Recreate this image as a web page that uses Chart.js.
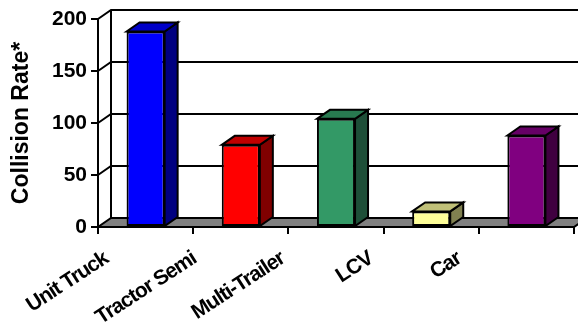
<!DOCTYPE html>
<html>
<head>
<meta charset="utf-8">
<script src="https://cdn.jsdelivr.net/npm/chart.js@4"></script>
<style>
  body { margin: 0; background: #fff; }
  canvas { display: block; }
</style>
</head>
<body>
<canvas id="rateChart" width="578" height="328"></canvas>
<script>
const categories = ['Unit Truck', 'Tractor Semi', 'Multi-Trailer', 'LCV', 'Car'];
const rates = [188, 79, 104, 15, 88];
const yTickValues = [0, 50, 100, 150, 200];

const frontColors = ['#0000FF', '#FF0000', '#339966', '#FFFF99', '#800080'];
const topColors = ['#0000C8', '#C00000', '#287A50', '#C0C078', '#660066'];
const sideColors = ['#000080', '#800000', '#1E4F38', '#808050', '#400040'];

// oblique depth of the floor, back wall and columns
const DX = 13;
const DY = -9;

Chart.defaults.font.family = "'Liberation Sans', Arial, sans-serif";
Chart.defaults.color = '#000';

const wallPlugin = {
  id: 'wall',
  beforeDatasetsDraw(chart) {
    const ctx = chart.ctx;
    const y = chart.scales.y;
    const a = chart.chartArea;
    ctx.save();
    ctx.lineWidth = 2;
    ctx.strokeStyle = '#000';
    ctx.lineJoin = 'miter';

    // floor
    ctx.beginPath();
    ctx.moveTo(a.left, a.bottom);
    ctx.lineTo(a.right, a.bottom);
    ctx.lineTo(a.right + DX, a.bottom + DY);
    ctx.lineTo(a.left + DX, a.bottom + DY);
    ctx.closePath();
    ctx.fillStyle = '#808080';
    ctx.fill();
    ctx.stroke();

    // back wall edge and gridlines
    ctx.beginPath();
    ctx.moveTo(a.left + DX, a.top + DY);
    ctx.lineTo(a.left + DX, a.bottom + DY);
    yTickValues.forEach(v => {
      if (v === 0) return;
      const py = y.getPixelForValue(v);
      ctx.moveTo(a.left, py);
      ctx.lineTo(a.left + DX, py + DY);
      ctx.lineTo(chart.width + 2, py + DY);
    });
    ctx.stroke();
    ctx.restore();
  },
  afterDatasetsDraw(chart) {
    const ctx = chart.ctx;
    const meta = chart.getDatasetMeta(0);
    ctx.save();
    ctx.lineWidth = 2;
    ctx.strokeStyle = '#000';
    ctx.lineJoin = 'miter';
    meta.data.forEach((bar, i) => {
      const p = bar.getProps(['x', 'y', 'base', 'width'], true);
      const x1 = p.x - p.width / 2;
      const x2 = p.x + p.width / 2;
      // side
      ctx.beginPath();
      ctx.moveTo(x2, p.y);
      ctx.lineTo(x2 + DX, p.y + DY);
      ctx.lineTo(x2 + DX, p.base + DY);
      ctx.lineTo(x2, p.base);
      ctx.closePath();
      ctx.fillStyle = sideColors[i];
      ctx.fill();
      ctx.stroke();
      // top
      ctx.beginPath();
      ctx.moveTo(x1, p.y);
      ctx.lineTo(x1 + DX, p.y + DY);
      ctx.lineTo(x2 + DX, p.y + DY);
      ctx.lineTo(x2, p.y);
      ctx.closePath();
      ctx.fillStyle = topColors[i];
      ctx.fill();
      ctx.stroke();
    });
    ctx.restore();
  },
  afterDraw(chart) {
    // slanted category names under the floor
    const ctx = chart.ctx;
    const x = chart.scales.x;
    ctx.save();
    ctx.font = "bold 21px 'Liberation Sans', Arial, sans-serif";
    ctx.letterSpacing = '-1px';
    ctx.fillStyle = '#000';
    ctx.textAlign = 'right';
    ctx.textBaseline = 'top';
    categories.forEach((name, i) => {
      const px = x.getPixelForValue(i) - 45 - 7 * i;
      ctx.save();
      ctx.translate(px, chart.chartArea.bottom + 21);
      ctx.rotate(-33 * Math.PI / 180);
      ctx.fillText(name, 0, 0);
      ctx.restore();
    });
    ctx.restore();
  }
};

new Chart(document.getElementById('rateChart'), {
  type: 'bar',
  data: {
    labels: categories,
    datasets: [{
      data: rates,
      backgroundColor: frontColors,
      borderColor: '#000',
      borderWidth: 2,
      borderSkipped: false,
      barPercentage: 0.4,
      categoryPercentage: 1
    }]
  },
  options: {
    responsive: false,
    animation: false,
    layout: { padding: { top: 19, right: 4, left: 0, bottom: 0 } },
    plugins: { legend: { display: false }, tooltip: { enabled: false } },
    scales: {
      x: {
        afterFit(scale) { scale.height = 101; },
        grid: { drawOnChartArea: false, color: '#000', lineWidth: 2, tickLength: 7, offset: true },
        border: { color: '#000', width: 2 },
        ticks: { display: false }
      },
      y: {
        min: 0,
        max: 200,
        afterFit(scale) { scale.width = 98; },
        grid: { drawOnChartArea: false, color: '#000', lineWidth: 2, tickLength: 7 },
        border: { color: '#000', width: 2 },
        ticks: {
          stepSize: 50,
          padding: 4,
          color: '#000',
          font: { size: 21, weight: 'bold' }
        },
        title: {
          display: true,
          text: 'Collision Rate*',
          color: '#000',
          font: { size: 23, weight: 'bold' },
          padding: { top: 8, bottom: 0 }
        }
      }
    }
  },
  plugins: [wallPlugin]
});
</script>
</body>
</html>
